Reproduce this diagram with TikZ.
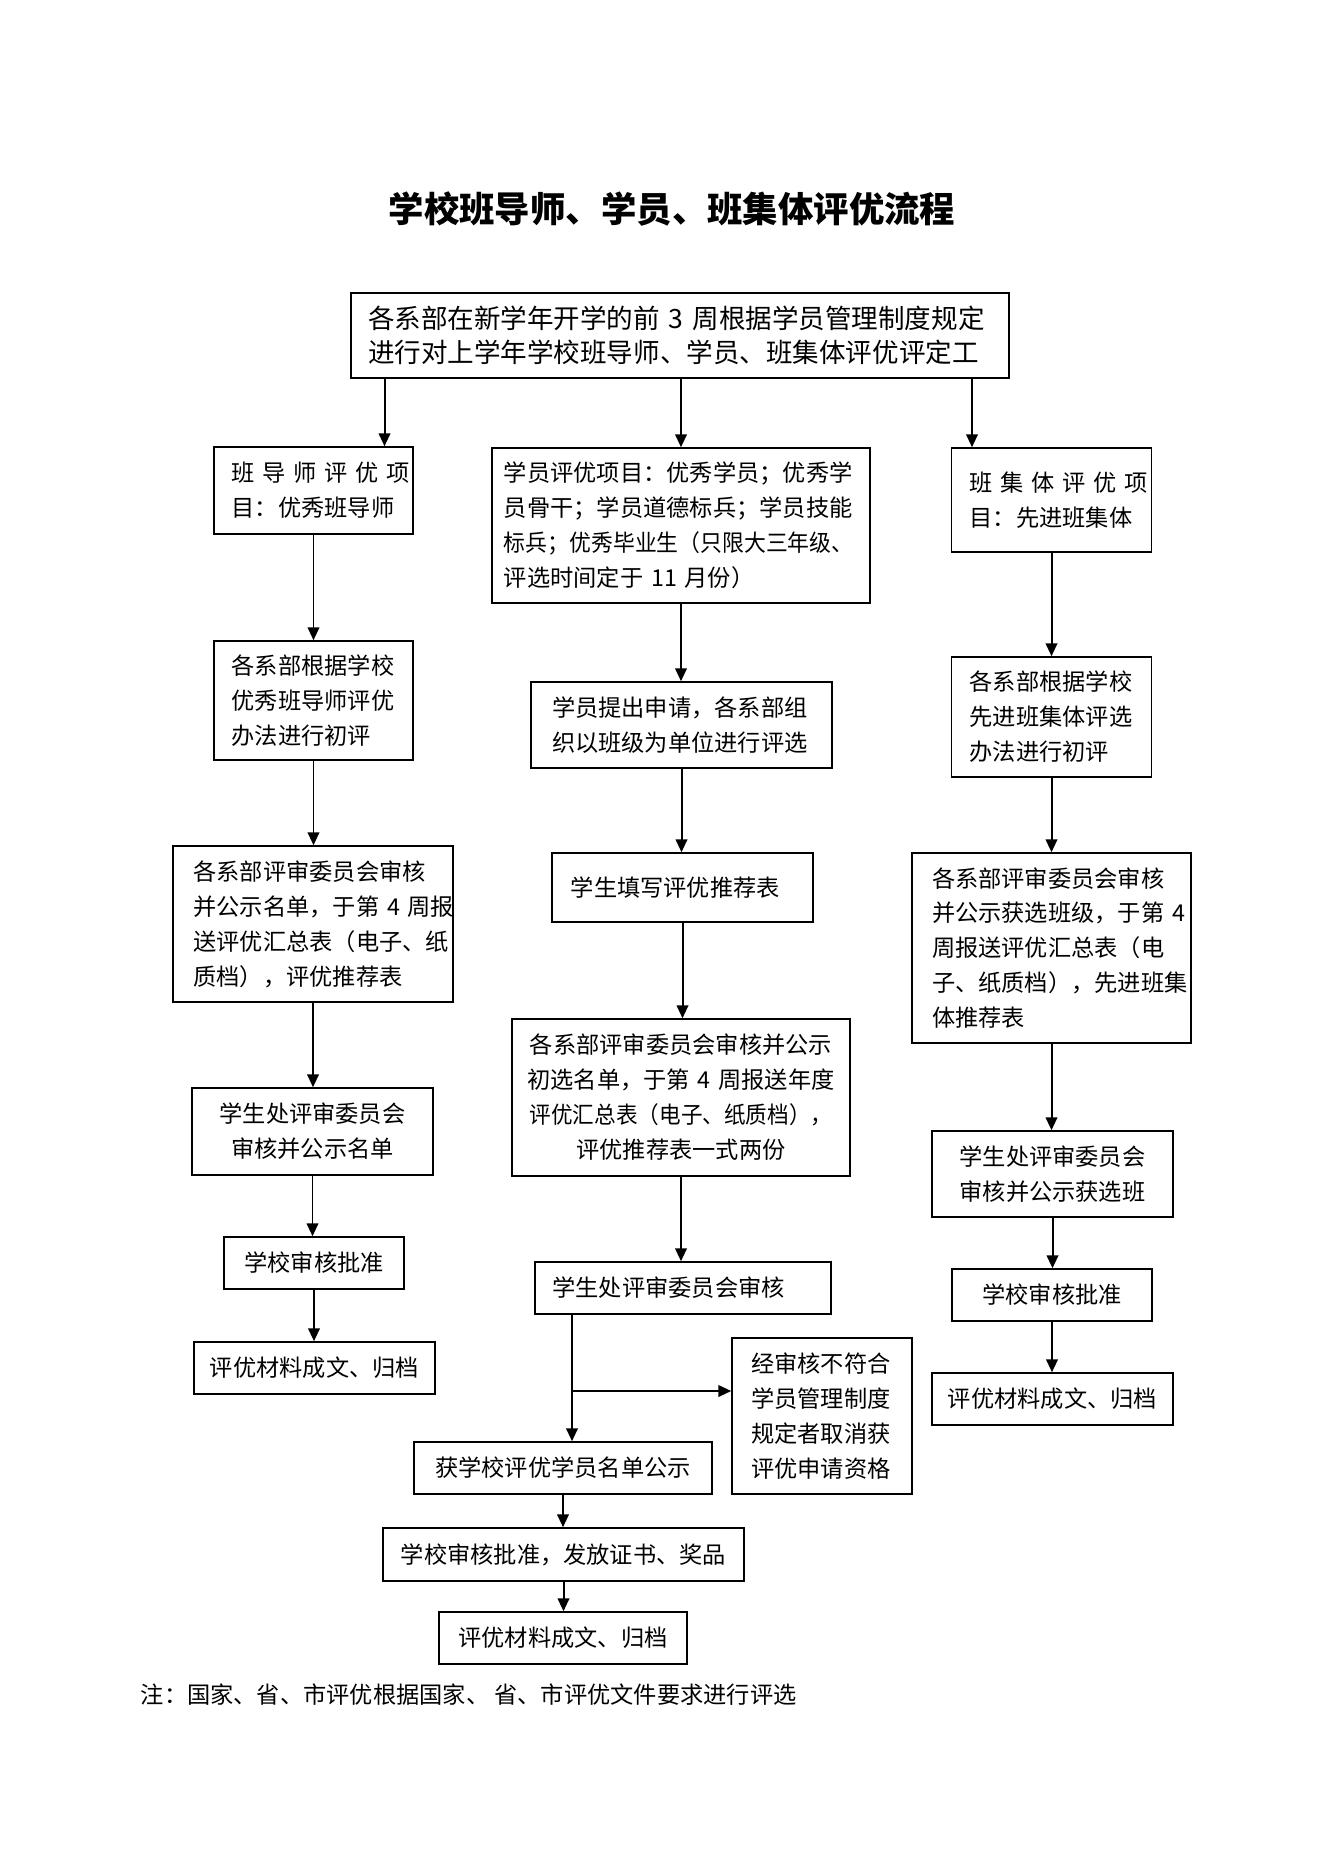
\documentclass[tikz,border=0pt]{standalone}
\usepackage{fontspec}
\setmainfont{Noto Sans CJK SC}
\usepackage{graphicx}
\usetikzlibrary{arrows.meta}
\newlength\pxu
\setlength\pxu{0.015885cm}
\newcommand\boxfont{\fontsize{10.5pt}{15.8pt}\selectfont}
\tikzset{
  bx/.style={draw, line width=0.7pt, inner sep=0pt, align=left, font=\boxfont},
  arr/.style={line width=0.9pt, -{Triangle[length=5.8pt,width=5.2pt]}}
}
\begin{document}
\begin{tikzpicture}[x=\pxu, y=-\pxu]
    \useasboundingbox (0,0) rectangle (1322,1871);
    \node[font=\fontsize{16pt}{20pt}\selectfont\bfseries] (title) at (672,209) {学校班导师、学员、班集体评优流程};
    \node[bx, font=\fontsize{12pt}{15.5pt}\selectfont, minimum width=658*\pxu, minimum height=85*\pxu, text width=282pt] (top) at (680,335.5) {各系部在新学年开学的前~3~周根据学员管理制度规定\\进行对上学年学校班导师、学员、班集体评优评定工};

    \node[bx, minimum width=199*\pxu, minimum height=87*\pxu, text width=74pt] (L1) at (313.5,490.5) {\makebox[\linewidth][s]{班 导 师 评 优 项}\\目：优秀班导师};
    \node[bx, minimum width=199*\pxu, minimum height=119*\pxu, text width=74pt] (L2) at (313.5,700.5) {各系部根据学校\\优秀班导师评优\\办法进行初评};
    \node[bx, minimum width=280*\pxu, minimum height=156*\pxu, text width=108pt] (L3) at (313,924) {各系部评审委员会审核\\并公示名单，于第~4~周报\\送评优汇总表（电子、纸\\质档），评优推荐表};
    \node[bx, align=center, minimum width=241*\pxu, minimum height=87*\pxu, text width=86pt] (L4) at (312.5,1131.5) {学生处评审委员会\\审核并公示名单};
    \node[bx, align=center, minimum width=180*\pxu, minimum height=52*\pxu] (L5) at (314,1263) {学校审核批准};
    \node[bx, align=center, minimum width=241*\pxu, minimum height=52*\pxu] (L6) at (314.5,1368) {评优材料成文、归档};

    \node[bx, minimum width=378*\pxu, minimum height=155*\pxu, text width=160pt] (M1) at (681,525.5) {学员评优项目：优秀学员；优秀学\\员骨干；学员道德标兵；学员技能\\\scalebox{0.94}[1]{标兵；优秀毕业生（只限大三年级、}\\评选时间定于~11~月份）};
    \node[bx, minimum width=301*\pxu, minimum height=86*\pxu, text width=117pt] (M2) at (681.5,725) {学员提出申请，各系部组\\织以班级为单位进行评选};
    \node[bx, minimum width=261*\pxu, minimum height=69*\pxu, text width=101pt] (M3) at (682.5,887.5) {学生填写评优推荐表};
    \node[bx, align=center, minimum width=338*\pxu, minimum height=157*\pxu, text width=141pt] (M4) at (681,1097.5) {各系部评审委员会审核并公示\\初选名单，于第~4~周报送年度\\\scalebox{0.93}[1]{评优汇总表（电子、纸质档），}\\评优推荐表一式两份};
    \node[bx, minimum width=296*\pxu, minimum height=52*\pxu, text width=118pt] (M5) at (683,1288) {学生处评审委员会审核};
    \node[bx, minimum width=180*\pxu, minimum height=156*\pxu, text width=64pt] (M6) at (822,1416) {经审核不符合\\学员管理制度\\规定者取消获\\评优申请资格};
    \node[bx, align=center, minimum width=298*\pxu, minimum height=52*\pxu] (M7) at (563,1468) {获学校评优学员名单公示};
    \node[bx, align=center, minimum width=361*\pxu, minimum height=53*\pxu] (M8) at (563.5,1554.5) {学校审核批准，发放证书、奖品};
    \node[bx, align=center, minimum width=248*\pxu, minimum height=52*\pxu] (M9) at (563,1638) {评优材料成文、归档};

    \node[bx, minimum width=200*\pxu, minimum height=104*\pxu, text width=74pt] (R1) at (1051.5,500) {\makebox[\linewidth][s]{班 集 体 评 优 项}\\目：先进班集体};
    \node[bx, minimum width=200*\pxu, minimum height=120*\pxu, text width=74pt] (R2) at (1051.5,717) {各系部根据学校\\先进班集体评选\\办法进行初评};
    \node[bx, minimum width=279*\pxu, minimum height=190*\pxu, text width=108pt] (R3) at (1051.5,948) {各系部评审委员会审核\\并公示获选班级，于第~4\\周报送评优汇总表（电\\子、纸质档），先进班集\\体推荐表};
    \node[bx, align=center, minimum width=241*\pxu, minimum height=86*\pxu, text width=86pt] (R4) at (1052.5,1174) {学生处评审委员会\\审核并公示获选班};
    \node[bx, align=center, minimum width=200*\pxu, minimum height=52*\pxu] (R5) at (1052,1295) {学校审核批准};
    \node[bx, align=center, minimum width=241*\pxu, minimum height=52*\pxu] (R6) at (1052.5,1399) {评优材料成文、归档};

    \node[anchor=west, font=\boxfont] (note) at (133,1695) {注：国家、省、市评优根据国家、 省、市评优文件要求进行评选};

    \draw[arr] ([xshift=71*\pxu]L1.north |- top.south) -- ([xshift=71*\pxu]L1.north);
    \draw[arr] (M1.north |- top.south) -- (M1.north);
    \draw[arr] ([xshift=-79.5*\pxu]R1.north |- top.south) -- ([xshift=-79.5*\pxu]R1.north);
    \foreach \a/\b in {L1/L2, L2/L3, L3/L4, L4/L5, L5/L6, M1/M2, M2/M3, M3/M4, M4/M5, M7/M8, M8/M9, R1/R2, R2/R3, R3/R4, R4/R5, R5/R6}
        \draw[arr] (\a.south) -- (\a.south |- \b.north);
    \draw[arr] ([xshift=-111*\pxu]M5.south) -- ([xshift=-111*\pxu]M5.south |- M7.north);
    \coordinate (split) at (572,1391);
    \draw[arr] (split) -- (split -| M6.west);
\end{tikzpicture}
\end{document}
